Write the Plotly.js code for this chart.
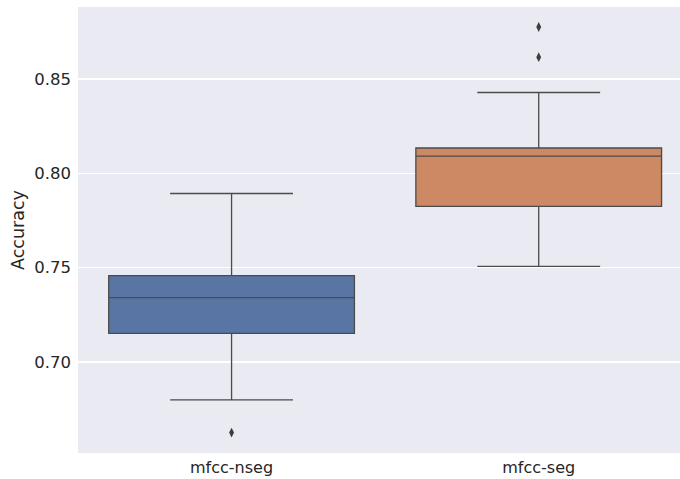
<!DOCTYPE html>
<html><head><meta charset="utf-8">
<script src="https://cdn.plot.ly/plotly-3.0.1.min.js"></script>
<style>html,body{margin:0;padding:0;overflow:hidden;background:#fff}</style>
</head><body><div id="chart" style="width:680px;height:479px"></div>
<script>
const categories = ["mfcc-nseg", "mfcc-seg"];
const q1 = [0.7152, 0.7825];
const medians = [0.7341, 0.8091];
const q3 = [0.7458, 0.8134];
const lowerWhisker = [0.6799, 0.7507];
const upperWhisker = [0.7893, 0.8428];
const outlierCats = ["mfcc-nseg", "mfcc-seg", "mfcc-seg"];
const outlierVals = [0.6626, 0.8615, 0.8775];
const colors = ["#5975a4", "#cc8963"];
const lineColor = "#4b4b4b";

const traces = categories.map((c, i) => ({
  type: "box",
  x: [c],
  q1: [q1[i]], median: [medians[i]], q3: [q3[i]],
  lowerfence: [lowerWhisker[i]], upperfence: [upperWhisker[i]],
  fillcolor: colors[i],
  line: {color: lineColor, width: 1.3},
  whiskerwidth: 0.5,
  width: 0.8,
  boxpoints: false,
  hoverinfo: "skip",
  showlegend: false
}));
traces.push({
  type: "scatter", mode: "markers",
  x: outlierCats, y: outlierVals,
  marker: {symbol: "diamond-tall", size: 7, color: "#3d3d3d"},
  showlegend: false, hoverinfo: "skip"
});

const layout = {
  width: 680, height: 479,
  margin: {l: 78, r: 0, t: 7, b: 26},
  paper_bgcolor: "#ffffff",
  plot_bgcolor: "#eaeaf2",
  font: {family: "DejaVu Sans", size: 16, color: "#262626"},
  xaxis: {
    type: "category",
    range: [-0.5, 1.46],
    showgrid: false, zeroline: false, showline: false,
    ticks: "", tickfont: {size: 16},
    ticklabelstandoff: 3
  },
  yaxis: {
    range: [0.6518, 0.8881],
    tickvals: [0.70, 0.75, 0.80, 0.85],
    ticktext: ["0.70", "0.75", "0.80", "0.85"],
    gridcolor: "#ffffff", gridwidth: 1.2,
    zeroline: false, showline: false, ticks: "",
    tickfont: {size: 16.5},
    ticklabelstandoff: 6,
    title: {text: "Accuracy", font: {size: 17.5}, standoff: 5}
  },
  boxmode: "overlay"
};
Plotly.newPlot("chart", traces, layout, {staticPlot: true, displayModeBar: false});
</script></body></html>
